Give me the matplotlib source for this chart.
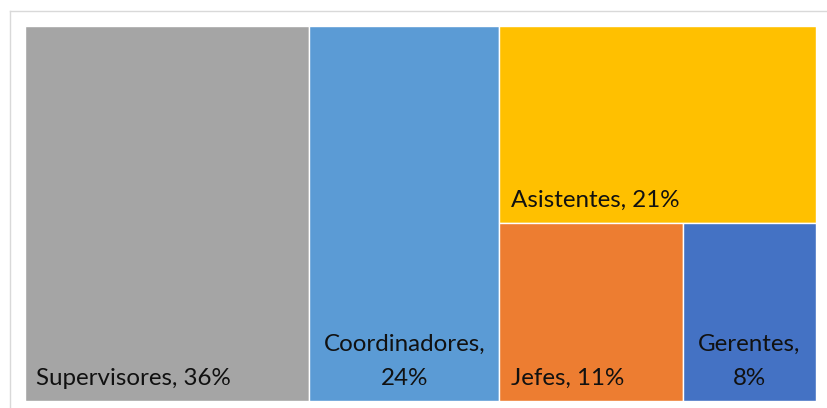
import matplotlib
matplotlib.use("Agg")
import matplotlib.pyplot as plt
from matplotlib.patches import Rectangle
from matplotlib.lines import Line2D

labels = ["Supervisores", "Coordinadores", "Asistentes", "Jefes", "Gerentes"]
shares = [36, 24, 21, 11, 8]
colors = ["#A5A5A5", "#5B9BD5", "#FFC000", "#ED7D31", "#4472C4"]


def layout(vals):
    """Excel-like layout: two big columns, then a column split into top + bottom row."""
    total = sum(vals)
    rects = []
    x = 0.0
    for v in vals[:2]:
        w = v / total * 100
        rects.append((x, 0.0, w, 100.0))
        x += w
    rest = sum(vals[2:])
    w = 100 - x
    h_top = vals[2] / rest * 100
    rects.append((x, 0.0, w, h_top))
    bottom = vals[3:]
    xx = x
    for v in bottom:
        ww = v / sum(bottom) * w
        rects.append((xx, h_top, ww, 100 - h_top))
        xx += ww
    return rects


W, H = 827, 408
fig = plt.figure(figsize=(W / 100, H / 100), dpi=100)
left, top, right, bot = 24.5, 26, 816, 401
ax = fig.add_axes([left / W, 1 - bot / H, (right - left) / W, (bot - top) / H])
ax.set_xlim(0, 100)
ax.set_ylim(100, 0)
ax.axis("off")

# chart frame (left and top edges visible)
fig.add_artist(Line2D([9.5 / W, 9.5 / W], [0, 1 - 11 / H], color="#D9D9D9", lw=1))
fig.add_artist(Line2D([9.5 / W, 1], [1 - 11 / H, 1 - 11 / H], color="#D9D9D9", lw=1))

rects = layout(shares)
fs = 17.4
for (x, y, w, h), name, val, c in zip(rects, labels, shares, colors):
    ax.add_patch(Rectangle((x, y), w, h, facecolor=c, edgecolor="white", lw=1))
    if name in ("Coordinadores", "Gerentes"):
        ax.annotate(f"{name},\n{val}%", (x + w / 2, y + h), xytext=(0, 16),
                    textcoords="offset pixels", ha="center", va="baseline",
                    fontsize=fs, family="Lato", linespacing=1.75, color="#111111")
    else:
        ax.annotate(f"{name}, {val}%", (x, y + h), xytext=(12, 16),
                    textcoords="offset pixels", ha="left", va="baseline",
                    fontsize=fs, family="Lato", color="#111111")

fig.savefig("out.png", dpi=100)
